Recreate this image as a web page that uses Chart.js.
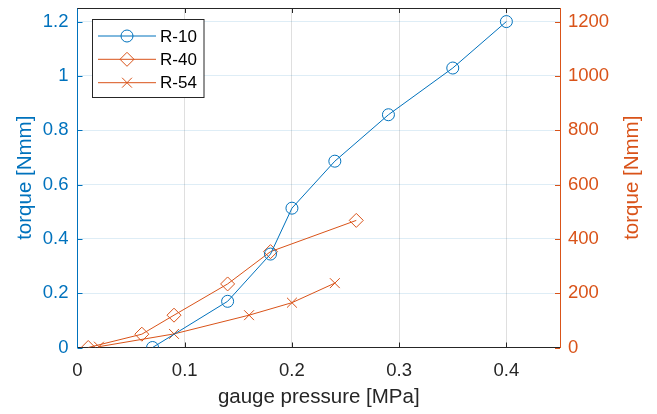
<!DOCTYPE html>
<html>
<head>
<meta charset="utf-8">
<script src="https://cdn.jsdelivr.net/npm/chart.js@4.4.0/dist/chart.umd.min.js"></script>
<style>
  html, body { margin: 0; padding: 0; background: #fff; }
  #wrap { width: 657px; height: 414px; }
</style>
</head>
<body>
<div id="wrap"><canvas id="chart" width="657" height="414"></canvas></div>
<script>
// Data
const pressureR10 = [0.07, 0.14, 0.18, 0.20, 0.24, 0.29, 0.35, 0.40];
const torqueR10 = [0, 0.17, 0.344, 0.513, 0.686, 0.857, 1.029, 1.2];   // left axis [Nmm]

const pressureR40 = [0.01, 0.06, 0.09, 0.14, 0.18, 0.26];
const torqueR40 = [0, 49, 119, 234, 353, 468];                          // right axis [Nmm]

const pressureR54 = [0.02, 0.09, 0.16, 0.20, 0.24];
const torqueR54 = [3, 50, 119, 165, 237];                               // right axis [Nmm]

const xTicks = [0, 0.1, 0.2, 0.3, 0.4];
const leftTicks = [0, 0.2, 0.4, 0.6, 0.8, 1, 1.2];
const rightTicks = [0, 200, 400, 600, 800, 1000, 1200];

// MATLAB-like colours
const BLUE = '#0072BD';
const ORANGE = '#D95319';
const DARK = '#262626';
const FONT = '"Liberation Sans", Arial, Helvetica, sans-serif';

function toPoints(xs, ys) {
  return xs.map((x, i) => ({ x: x, y: ys[i] }));
}

// no extra room for overhanging tick labels, the box is fixed
function noPad(scale) {
  scale.paddingTop = 0;
  scale.paddingBottom = 0;
  scale.paddingLeft = 0;
  scale.paddingRight = 0;
}

// Top border, inward tick marks, right-hand title
const axisFrame = {
  id: 'axisFrame',
  afterDraw(chart) {
    const { ctx, chartArea: a, scales } = chart;
    const len = 5;
    ctx.save();
    ctx.lineWidth = 1;

    ctx.strokeStyle = DARK;
    ctx.beginPath();
    ctx.moveTo(a.left, Math.round(a.top) + 0.5);
    ctx.lineTo(a.right, Math.round(a.top) + 0.5);
    xTicks.forEach(v => {
      if (v === 0) return;
      const px = Math.round(scales.x.getPixelForValue(v)) + 0.5;
      ctx.moveTo(px, a.bottom);
      ctx.lineTo(px, a.bottom - len);
      ctx.moveTo(px, a.top);
      ctx.lineTo(px, a.top + len);
    });
    ctx.stroke();

    ctx.strokeStyle = BLUE;
    ctx.beginPath();
    leftTicks.forEach(v => {
      const py = Math.round(scales.y.getPixelForValue(v)) + 0.5;
      ctx.moveTo(a.left, py);
      ctx.lineTo(a.left + len, py);
    });
    ctx.stroke();

    ctx.strokeStyle = ORANGE;
    ctx.beginPath();
    rightTicks.forEach(v => {
      const py = Math.round(scales.y2.getPixelForValue(v)) + 0.5;
      ctx.moveTo(a.right, py);
      ctx.lineTo(a.right - len, py);
    });
    ctx.stroke();

    // right axis title reads bottom-to-top like the left one
    ctx.translate(632, (a.top + a.bottom) / 2);
    ctx.rotate(-Math.PI / 2);
    ctx.font = '20.5px ' + FONT;
    ctx.fillStyle = ORANGE;
    ctx.textAlign = 'center';
    ctx.textBaseline = 'middle';
    ctx.fillText('torque [Nmm]', 0, 0);
    ctx.restore();
  }
};

// Boxed legend in the upper-left corner of the plot
const boxLegend = {
  id: 'boxLegend',
  afterDraw(chart) {
    const ctx = chart.ctx;
    const box = { x: 92.5, y: 19.5, w: 111.5, h: 78 };
    const rows = [36, 59.3, 82.7];
    ctx.save();
    ctx.fillStyle = '#ffffff';
    ctx.fillRect(box.x, box.y, box.w, box.h);
    ctx.strokeStyle = DARK;
    ctx.lineWidth = 1;
    ctx.strokeRect(box.x, box.y, box.w, box.h);

    chart.data.datasets.forEach((ds, i) => {
      const y = rows[i];
      ctx.strokeStyle = ds.borderColor;
      ctx.lineWidth = 1;
      ctx.beginPath();
      ctx.moveTo(98, y);
      ctx.lineTo(156, y);
      ctx.stroke();
      ctx.fillStyle = 'rgba(0,0,0,0)';
      Chart.helpers.drawPoint(ctx, {
        pointStyle: ds.pointStyle,
        radius: ds.pointRadius,
        borderWidth: 1,
        rotation: 0
      }, 127, y);
      ctx.fillStyle = '#000000';
      ctx.font = '17px ' + FONT;
      ctx.textAlign = 'left';
      ctx.textBaseline = 'middle';
      ctx.fillText(ds.label, 160, y + 1);
    });
    ctx.restore();
  }
};

const tickFont = { family: FONT, size: 18.5 };
const titleFont = { family: FONT, size: 20.5 };

new Chart(document.getElementById('chart'), {
  type: 'line',
  data: {
    datasets: [
      {
        label: 'R-10',
        data: toPoints(pressureR10, torqueR10),
        yAxisID: 'y',
        borderColor: BLUE,
        borderWidth: 1,
        pointStyle: 'circle',
        pointRadius: 6,
        pointBorderWidth: 1,
        pointBorderColor: BLUE,
        pointBackgroundColor: 'rgba(0,0,0,0)',
        tension: 0,
        fill: false
      },
      {
        label: 'R-40',
        data: toPoints(pressureR40, torqueR40),
        yAxisID: 'y2',
        borderColor: ORANGE,
        borderWidth: 1,
        pointStyle: 'rectRot',
        pointRadius: 7,
        pointBorderWidth: 1,
        pointBorderColor: ORANGE,
        pointBackgroundColor: 'rgba(0,0,0,0)',
        tension: 0,
        fill: false
      },
      {
        label: 'R-54',
        data: toPoints(pressureR54, torqueR54),
        yAxisID: 'y2',
        borderColor: ORANGE,
        borderWidth: 1,
        pointStyle: 'crossRot',
        pointRadius: 7,
        pointBorderWidth: 1,
        pointBorderColor: ORANGE,
        pointBackgroundColor: 'rgba(0,0,0,0)',
        tension: 0,
        fill: false
      }
    ]
  },
  options: {
    responsive: false,
    animation: false,
    devicePixelRatio: 1,
    layout: { padding: { top: 3, left: 0, right: 0, bottom: 0 } },
    plugins: {
      legend: { display: false },
      tooltip: { enabled: false }
    },
    scales: {
      x: {
        type: 'linear',
        min: 0,
        max: 0.45,
        afterBuildTicks: scale => { scale.ticks = xTicks.map(v => ({ value: v })); },
        afterFit: scale => { scale.height = 66.5; noPad(scale); },
        ticks: {
          color: DARK,
          font: tickFont,
          padding: 12,
          maxRotation: 0,
          callback: v => String(v)
        },
        grid: { color: 'rgba(38,38,38,0.15)', drawTicks: false },
        border: { color: DARK, width: 1 },
        title: {
          display: true,
          text: 'gauge pressure [MPa]',
          color: DARK,
          font: titleFont,
          padding: { top: 0, bottom: 4.7 }
        }
      },
      y: {
        type: 'linear',
        position: 'left',
        min: 0,
        max: 1.25,
        afterBuildTicks: scale => { scale.ticks = leftTicks.map(v => ({ value: v })); },
        afterFit: scale => { scale.width = 77.5; noPad(scale); },
        ticks: {
          color: BLUE,
          font: tickFont,
          padding: 9,
          callback: v => String(v)
        },
        grid: { color: 'rgba(0,114,189,0.13)', drawTicks: false },
        border: { color: BLUE, width: 1 },
        title: {
          display: true,
          text: 'torque [Nmm]',
          color: BLUE,
          font: titleFont,
          padding: { top: 13.5, bottom: 0 }
        }
      },
      y2: {
        type: 'linear',
        position: 'right',
        min: 0,
        max: 1250,
        afterBuildTicks: scale => { scale.ticks = rightTicks.map(v => ({ value: v })); },
        afterFit: scale => { scale.width = 97; noPad(scale); },
        ticks: {
          color: ORANGE,
          font: tickFont,
          padding: 8,
          callback: v => String(v)
        },
        grid: { display: false, drawTicks: false },
        border: { color: ORANGE, width: 1 }
      }
    }
  },
  plugins: [axisFrame, boxLegend]
});
</script>
</body>
</html>
